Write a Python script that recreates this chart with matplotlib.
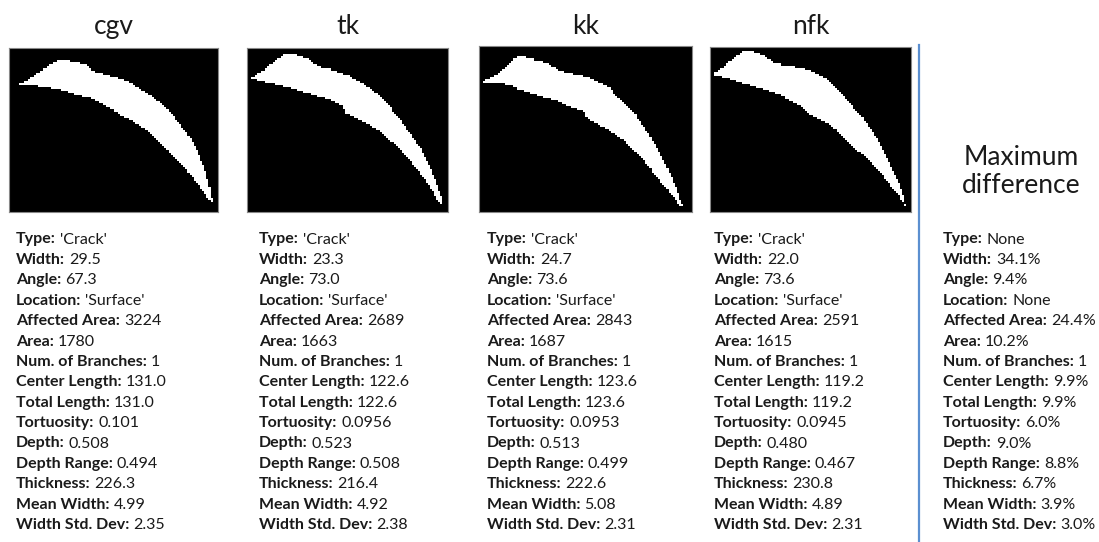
import numpy as np
import matplotlib.pyplot as plt

plt.rcParams['font.family'] = ['Lato', 'DejaVu Sans']

methods = ['cgv', 'tk', 'kk', 'nfk']
labels = ['Type', 'Width', 'Angle', 'Location', 'Affected Area', 'Area',
          'Num. of Branches', 'Center Length', 'Total Length', 'Tortuosity',
          'Depth', 'Depth Range', 'Thickness', 'Mean Width', 'Width Std. Dev']

cgv_vals = ["'Crack'", '29.5', '67.3', "'Surface'", '3224', '1780', '1', '131.0',
            '131.0', '0.101', '0.508', '0.494', '226.3', '4.99', '2.35']
tk_vals = ["'Crack'", '23.3', '73.0', "'Surface'", '2689', '1663', '1', '122.6',
           '122.6', '0.0956', '0.523', '0.508', '216.4', '4.92', '2.38']
kk_vals = ["'Crack'", '24.7', '73.6', "'Surface'", '2843', '1687', '1', '123.6',
           '123.6', '0.0953', '0.513', '0.499', '222.6', '5.08', '2.31']
nfk_vals = ["'Crack'", '22.0', '73.6', "'Surface'", '2591', '1615', '1', '119.2',
            '119.2', '0.0945', '0.480', '0.467', '230.8', '4.89', '2.31']
max_diff = ['None', '34.1%', '9.4%', 'None', '24.4%', '10.2%', '1', '9.9%',
            '9.9%', '6.0%', '9.0%', '8.8%', '6.7%', '3.9%', '3.0%']

# crack outlines, % of image width (x) and % of image height from top (y)
cgv_top_x = [4.5, 11.6, 19.6, 24.4, 29.9, 33.9, 37.9, 40.3, 46.7, 54.6, 59.4, 65.8, 72.1, 78.5, 84.9, 89.6, 92.8, 95.2, 96.8]
cgv_top_y = [22.4, 17.3, 10.2, 7.6, 8.2, 9.2, 11.2, 14.3, 16.3, 19.0, 22.4, 27.6, 33.7, 41.8, 52.0, 62.2, 72.4, 82.7, 93.9]
cgv_bot_x = [4.5, 8.4, 16.4, 24.4, 32.3, 38.7, 43.5, 49.8, 54.6, 59.4, 64.2, 70.5, 76.9, 83.3, 89.6, 94.4, 96.8]
cgv_bot_y = [23.1, 22.4, 23.5, 25.5, 28.6, 30.6, 33.7, 37.8, 41.8, 44.9, 49.0, 56.1, 64.3, 72.4, 82.7, 90.8, 93.9]

tk_top_x = [2.5, 8.3, 13.2, 18.2, 22.3, 29.8, 33.1, 37.2, 43.0, 49.6, 54.5, 61.2, 67.8, 74.4, 81.0, 86.8, 90.9, 94.2, 96.7, 97.5]
tk_top_y = [17.8, 13.3, 9.2, 4.1, 3.5, 6.1, 9.2, 12.2, 13.3, 16.3, 19.4, 24.5, 31.6, 40.8, 52.0, 62.2, 72.4, 82.7, 90.8, 95.9]
tk_bot_x = [2.5, 8.3, 16.5, 24.8, 33.1, 41.3, 47.9, 49.6, 57.9, 66.1, 74.4, 81.0, 87.6, 92.6, 95.9, 97.5]
tk_bot_y = [18.4, 20.4, 22.4, 25.5, 28.6, 31.6, 35.7, 39.8, 44.9, 51.0, 60.2, 68.4, 78.6, 87.8, 94.9, 95.9]

kk_top_x = [1.9, 8.2, 13.7, 18.4, 23.1, 27.8, 32.5, 37.2, 42.7, 50.5, 55.3, 61.5, 67.8, 74.1, 80.4, 85.9, 89.8, 92.9, 95.3, 96.9]
kk_top_y = [21.5, 17.5, 11.5, 5.8, 7.4, 8.5, 10.1, 14.5, 16.5, 18.5, 21.5, 25.6, 33.6, 42.7, 54.7, 66.8, 76.9, 86.9, 95.0, 98.0]
kk_bot_x = [1.9, 9.7, 16.0, 22.3, 28.6, 36.4, 42.7, 49.0, 52.1, 58.4, 64.7, 71.0, 77.2, 83.5, 89.8, 93.7, 96.9]
kk_bot_y = [22.1, 22.5, 24.5, 27.6, 30.2, 32.6, 36.6, 39.6, 44.7, 48.7, 53.7, 60.8, 68.8, 78.9, 88.9, 95.0, 98.0]

nfk_top_x = [1.3, 6.6, 11.6, 16.6, 21.6, 26.6, 30.7, 36.5, 43.2, 49.8, 56.5, 63.1, 69.8, 76.4, 83.1, 88.0, 92.2, 94.7, 96.7]
nfk_top_y = [16.2, 12.1, 7.1, 3.0, 3.0, 5.1, 9.1, 11.1, 12.1, 14.1, 18.2, 25.3, 34.3, 44.4, 56.6, 68.7, 78.8, 86.9, 96.0]
nfk_bot_x = [1.3, 6.6, 11.6, 19.9, 28.2, 36.5, 44.9, 49.8, 58.1, 64.8, 71.4, 78.1, 84.7, 89.7, 93.9, 96.7]
nfk_bot_y = [16.8, 18.2, 20.2, 23.2, 26.3, 30.3, 35.4, 41.4, 46.5, 52.5, 60.6, 68.7, 76.8, 84.8, 90.9, 96.0]

outlines = [(cgv_top_x, cgv_top_y, cgv_bot_x, cgv_bot_y),
            (tk_top_x, tk_top_y, tk_bot_x, tk_bot_y),
            (kk_top_x, kk_top_y, kk_bot_x, kk_bot_y),
            (nfk_top_x, nfk_top_y, nfk_bot_x, nfk_bot_y)]
values = [cgv_vals, tk_vals, kk_vals, nfk_vals]


def crack_mask(tx, ty, bx, by, nx=100, ny=80):
    xs = (np.arange(nx) + 0.5) / nx * 100
    ys = (np.arange(ny) + 0.5) / ny * 100
    top = np.interp(xs, tx, ty)
    bot = np.interp(xs, bx, by)
    inside = (xs >= max(tx[0], bx[0])) & (xs <= min(tx[-1], bx[-1]))
    return (ys[:, None] >= top[None, :]) & (ys[:, None] <= bot[None, :]) & inside[None, :]


W, H = 1099, 542
fig = plt.figure(figsize=(W / 100, H / 100), dpi=100)
renderer = fig.canvas.get_renderer()

# pixel layout
box_l = [9, 247, 479, 710]
box_r = [218, 448, 692, 911]
box_t = [48, 48, 46, 47]
box_b = 212
text_x = [16, 259, 487, 714, 943]
line_y0 = 243.5
line_dy = 20.4
fs = 11.5
txt_col = '#1a1a1a'


def block(x, vals):
    for i, (lab, v) in enumerate(zip(labels, vals)):
        y = 1 - (line_y0 + i * line_dy) / H
        t = fig.text(x / W, y, lab + ':', fontsize=fs, fontweight='bold',
                     color=txt_col, va='baseline')
        bb = t.get_window_extent(renderer)
        fig.text((bb.x1 + 4) / W, y, v, fontsize=fs, color=txt_col, va='baseline')


for k, m in enumerate(methods):
    ax = fig.add_axes([box_l[k] / W, 1 - box_b / H,
                       (box_r[k] - box_l[k]) / W, (box_b - box_t[k]) / H])
    ax.imshow(crack_mask(*outlines[k]), cmap='gray', vmin=0, vmax=1,
              interpolation='nearest', aspect='auto')
    ax.set_xticks([])
    ax.set_yticks([])
    for s in ax.spines.values():
        s.set_color('#888888')
        s.set_linewidth(0.8)
    fig.text((box_l[k] + box_r[k]) / 2 / W, 1 - 34 / H, m, fontsize=19,
             ha='center', va='baseline', color=txt_col)
    block(text_x[k], values[k])

block(text_x[4], max_diff)

fig.add_artist(plt.Line2D([919 / W, 919 / W], [0, 1 - 45 / H], color='#5b8fd0',
                          lw=1.6, transform=fig.transFigure))
fig.text(1021 / W, 1 - 172 / H, 'Maximum\ndifference', fontsize=19, ha='center',
         va='center', color=txt_col, linespacing=1.15)

fig.savefig('out.png', dpi=100)
